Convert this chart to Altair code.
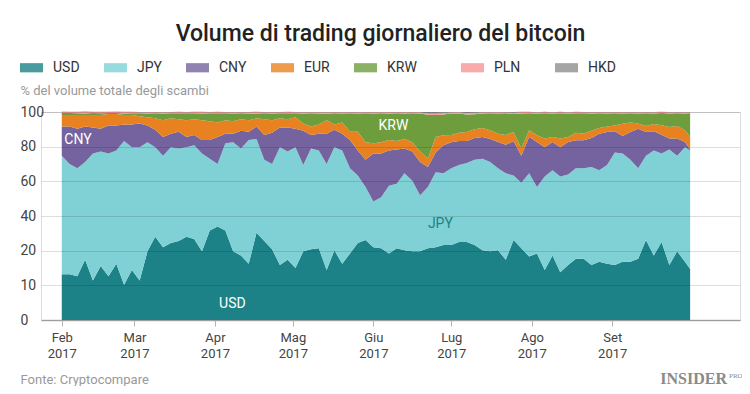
import altair as alt
import pandas as pd

# ---- data (% of total volume, every 3 days) ----
currencies = ["USD", "JPY", "CNY", "EUR", "KRW", "PLN", "HKD"]
colors = ["#1c8287", "#80d1d6", "#74639e", "#e88220", "#6e9d3e", "#f69696", "#8e8e8e"]

start = pd.Timestamp("2017-02-01")
dates = [start + pd.Timedelta(days=3 * i) for i in range(81)] + [pd.Timestamp("2017-10-01")]

usd = [22, 22, 21, 29, 19, 26, 21, 27, 17, 24, 19, 33, 40, 35,
       37, 38, 40, 39, 33, 43, 45, 43, 33, 31, 27, 42, 38, 34,
       26.5, 29, 25, 33, 34, 34.5, 24, 33.5, 27, 32, 37, 38.5, 35,
       34.5, 32, 34.5, 33.5, 33, 33, 34.5, 35, 36, 36, 37.5, 37.5, 36, 33.5,
       33, 33.5, 29, 38.5, 34.5, 30.5, 32, 24, 31, 23, 26.5, 29.5, 29.5,
       26.5, 28, 27, 26.5, 28, 28, 29.5, 38.5, 31, 37.5, 26.5, 33, 28, 24.5]
jpy = [57, 53, 52, 47, 61, 55, 59, 54.5, 69, 59, 64, 52.5, 43, 44,
       46, 44.5, 43, 45, 47, 34.5, 30, 42, 52.5, 51.5, 59.5, 45, 39, 41,
       56.5, 52, 58, 41.5, 48.5, 47, 51, 49.5, 54.5, 41, 32.5, 25.5, 22,
       24.5, 32.5, 31, 37, 34, 27, 29.5, 36, 34.5, 37, 37, 38, 41, 44,
       43, 39.5, 41.5, 31, 31.5, 40, 32, 45, 41, 46, 43.5, 43.5, 43.5,
       47, 44, 47.5, 54, 52, 49, 43.5, 40.5, 50.5, 42.5, 55.5, 46, 55, 57]
cny = [14, 18, 19, 17, 12.5, 11, 13.5, 12, 8, 11, 11.5, 8, 8.5, 9,
       6.5, 8, 5, 5, 6.5, 9, 13, 4.5, 4, 8.5, 4, 6, 12, 15,
       9.5, 11.5, 9, 16.5, 6.5, 8, 14.5, 8.5, 8, 13.5, 12, 13, 23,
       21, 17, 16.5, 12, 14, 16, 9.5, 9.5, 13.5, 12.5, 11.5, 10.5, 10.5, 10.5,
       11, 12.6, 13.8, 16.5, 13, 17.5, 21.6, 14, 13.6, 14, 15.6, 13.4, 13.4,
       14, 17.6, 15.9, 10.2, 8.5, 13.4, 19, 11.4, 9.2, 9.1, 5.2, 8.2, 2.6, 0.5]
eur = [5.5, 5.5, 6.5, 5.5, 6, 6.5, 5.5, 5.5, 4.5, 4.5, 3.5, 4, 5.5, 8,
       7.5, 6, 8, 7.5, 9.5, 9, 7, 6.5, 6, 5.5, 5.5, 4, 7.5, 6,
       4.5, 4, 5.5, 3.5, 4, 4.5, 6.5, 2.5, 5.5, 4, 9, 8.5, 5,
       5.5, 5, 4, 4.5, 4.5, 5, 4, 7.5, 4.8, 3.5, 4, 4.4, 4.2, 4.3,
       4.2, 4, 4.7, 4.4, 3.5, 3.2, 3.2, 4.2, 2.4, 4.2, 2.4, 3.6, 3.1,
       3.5, 2.7, 2.6, 2.8, 5.9, 4.6, 2.5, 2.9, 3.5, 4.5, 5.6, 6.1, 5.6, 6]
krw = [1.0, 1.0, 0.9, 0.8, 1.0, 0.9, 0.5, 0.5, 0.8, 0.9, 1.4, 1.8, 2.4, 3.3,
       2.4, 2.9, 3.4, 2.9, 3.3, 3.9, 4.4, 3.4, 3.8, 2.9, 3.3, 2.3, 2.9, 3.3,
       2.4, 2.9, 1.9, 4.8, 6.4, 5.3, 3.2, 5.4, 4.3, 8.9, 8.8, 13.9, 14.3,
       13.9, 12.8, 13.4, 12.3, 13.9, 18.3, 21.2, 10.6, 10.0, 10.3, 9.3, 8.4, 7.2, 7.0,
       8.2, 9.7, 10.4, 8.6, 16.8, 8.2, 10.5, 12.2, 11.3, 12.2, 11.3, 9.4, 9.9,
       8.3, 7.1, 6.3, 5.9, 4.9, 4.4, 4.8, 6.1, 5.1, 5.9, 6.5, 6.1, 8.1, 11.4]
pln = [0.6, 0.5, 0.6, 0.7, 0.5, 0.6, 0.5, 0.6, 0.7, 0.6, 0.5, 0.6, 0.5, 0.6,
       0.5, 0.6, 0.5, 0.6, 0.7, 0.5, 0.6, 0.5, 0.6, 0.5, 0.6, 0.7, 0.5, 0.6,
       0.5, 0.6, 0.5, 0.6, 0.5, 0.6, 0.7, 0.5, 0.6, 0.5, 0.6, 0.5, 0.6,
       0.5, 0.6, 0.5, 0.6, 0.5, 0.6, 0.5, 0.6, 0.5, 0.6, 0.5, 0.6, 0.5, 0.6,
       0.5, 0.6, 0.5, 0.6, 0.7, 0.6, 0.5, 0.6, 0.5, 0.6, 0.5, 0.6, 0.5,
       0.6, 0.5, 0.6, 0.5, 0.6, 0.5, 0.6, 0.5, 0.6, 0.5, 0.6, 0.5, 0.6, 0.5]
hkd = [0.1, 0.1, 0.1, 0.3, 0.1, 0.1, 0.1, 0.1, 0.1, 0.1, 0.1, 0.1, 0.1, 0.1,
       0.1, 0.1, 0.1, 0.1, 0.1, 0.1, 0.1, 0.1, 0.1, 0.1, 0.1, 0.1, 0.1, 0.1,
       0.1, 0.1, 0.1, 0.1, 0.1, 0.1, 0.1, 0.1, 0.1, 0.1, 0.1, 0.1, 0.1,
       0.1, 0.1, 0.1, 0.1, 0.1, 0.1, 0.8, 0.8, 0.6, 0.1, 0.1, 0.6, 0.5, 0.1,
       0.1, 0.1, 0.1, 0.4, 0.1, 0.1, 0.1, 0.1, 0.1, 0.1, 0.1, 0.1, 0.1,
       0.1, 0.1, 0.1, 0.1, 0.1, 0.1, 0.1, 0.1, 0.1, 0.1, 0.1, 0.1, 0.1, 0.1]

month_names = ["Gen", "Feb", "Mar", "Apr", "Mag", "Giu", "Lug", "Ago", "Set", "Ott", "Nov", "Dic"]
y_tick_labels = ["0", "10", "20", "40", "60", "80", "100"]

# in-chart labels (date, % position)
lab_text = ["CNY", "KRW", "JPY", "USD"]
lab_date = ["2017-02-02T00:00:00", "2017-06-03T00:00:00", "2017-06-22T00:00:00", "2017-04-02T14:00:00"]
lab_val = [86.4, 93.1, 46.3, 7.9]
lab_color = ["#ffffff", "#ffffff", "#1c8287", "#ffffff"]

# ---- table ----
series = [usd, jpy, cny, eur, krw, pln, hkd]
rows = []
for ci, (cur, vals) in enumerate(zip(currencies, series)):
    for d, v in zip(dates, vals):
        rows.append({"date": d, "valuta": cur, "quota": v, "ordine": ci})
df = pd.DataFrame(rows)

labels_df = pd.DataFrame({"date": pd.to_datetime(lab_date), "quota": lab_val,
                          "testo": lab_text, "colore": lab_color})

FONT = "Roboto"
x_scale = alt.Scale(domain=[alt.DateTime(year=2017, month=1, date=24),
                            alt.DateTime(year=2017, month=10, date=20, hours=5)])
y_scale = alt.Scale(domain=[0, 100], nice=False)

month_js = "[" + ",".join("'%s'" % m for m in month_names) + "]"
ylab_js = "[" + ",".join("'%s'" % t for t in y_tick_labels) + "]"

x_axis = alt.Axis(
    values=[alt.DateTime(year=2017, month=m, date=1) for m in range(2, 10)],
    labelExpr=f"[{month_js}[month(datum.value)], '' + year(datum.value)]",
    grid=False, domainColor="#b5b5b5", domainWidth=1.5, tickColor="#b5b5b5",
    tickSize=6, labelFontSize=13, labelColor="#444", labelFont=FONT,
    labelLineHeight=16, labelPadding=5, labelFlush=False, labelOverlap=False,
    tickCount=20,
    title="Fonte: Cryptocompare", titleX=-21, titleY=63, titleAlign="left",
    titleAnchor="start", titleBaseline="alphabetic", titleFontSize=13,
    titleFontWeight="normal", titleColor="#999", titleFont=FONT,
)
y_axis = alt.Axis(
    values=[i * 100 / 6 for i in range(7)], tickCount=10,
    labelExpr=f"{ylab_js}[round(datum.value * 6 / 100)]",
    ticks=False, tickSize=0, domain=False, grid=True, gridColor="#000",
    gridOpacity=0.13, labelAlign="left", labelPadding=21, labelBaseline="middle",
    labelOverlap=False, labelFontSize=14, labelColor="#444", labelFont=FONT, zindex=1,
    title="% del volume totale degli scambi", titleAngle=0, titleX=-21,
    titleY=-18, titleAlign="left", titleBaseline="alphabetic", titleFontSize=13,
    titleFontWeight="normal", titleColor="#999", titleFont=FONT,
)

# legend label widths padded with a blank (non-trimmed) glyph so entries sit as in the reference
BL = "\u2800"
legend_label = (f"datum.label == 'KRW' ? 'KRW{BL * 2}' : "
                f"datum.label == 'PLN' ? 'PLN{BL}' : datum.label")

areas = alt.Chart(df).mark_area(interpolate="linear").encode(
    x=alt.X("date:T", scale=x_scale, axis=x_axis),
    y=alt.Y("quota:Q", stack="zero", scale=y_scale, axis=y_axis),
    color=alt.Color("valuta:N", scale=alt.Scale(domain=currencies, range=colors),
                    legend=alt.Legend(
                        title=None, orient="none", legendX=-21, legendY=-56,
                        direction="horizontal", symbolType="M-1,-0.4H1V0.4H-1Z",
                        symbolSize=529, symbolOpacity=0.8, symbolStrokeWidth=0,
                        labelFontSize=14, labelFont=FONT, labelColor="#333",
                        labelExpr=legend_label,
                        labelOffset=10, columnPadding=24)),
    order=alt.Order("ordine:Q", sort="ascending"),
)

texts = alt.Chart(labels_df).mark_text(align="left", baseline="middle",
                                       fontSize=14, font=FONT).encode(
    x="date:T", y="quota:Q", text="testo:N",
    color=alt.Color("colore:N", scale=None),
)

logo = alt.Chart(pd.DataFrame({"t": ["INSIDER"]})).mark_text(
    align="right", baseline="alphabetic", font="Liberation Serif", fontWeight="bold",
    fontSize=16, color="#8a8a8a").encode(text="t:N", x=alt.value(686), y=alt.value(272))
logo_pro = alt.Chart(pd.DataFrame({"t": ["PRO"]})).mark_text(
    align="left", baseline="alphabetic", font="Liberation Serif",
    fontSize=7, color="#8a8a8a").encode(text="t:N", x=alt.value(688), y=alt.value(266))

chart = alt.layer(areas, texts, logo, logo_pro).properties(
    width=699, height=208,
    title=alt.TitleParams("Volume di trading giornaliero del bitcoin", font=FONT,
                          fontSize=23, fontWeight=500, color="#222",
                          anchor="middle", dx=-10, dy=-6),
    autosize=alt.AutoSizeParams(type="none"),
    padding={"left": 33, "top": 104, "right": 2, "bottom": 66},
).configure_view(stroke=None).configure(background="white")

chart.save("out.html", embed_options={"renderer": "svg", "actions": False})
